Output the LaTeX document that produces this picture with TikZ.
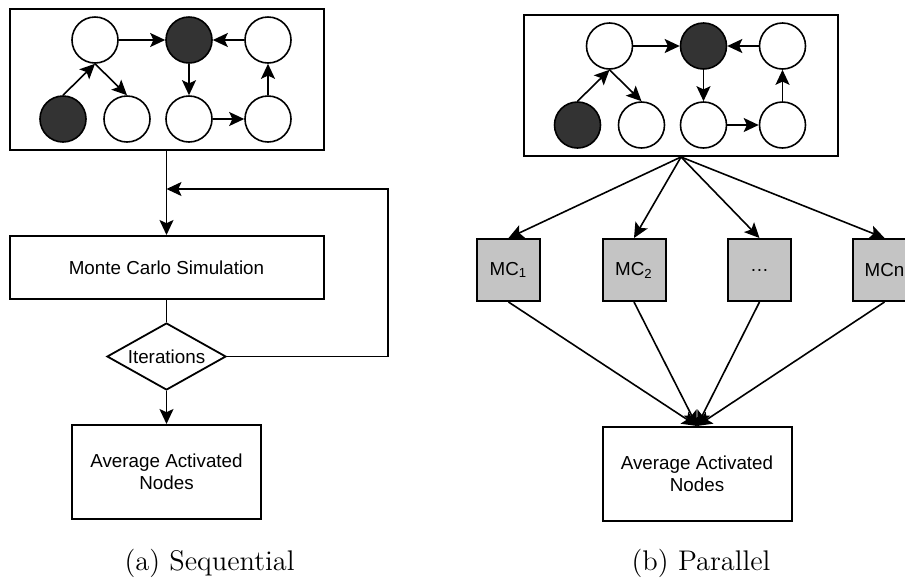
\documentclass[tikz,border=0pt]{standalone}
\usepackage{fontspec}
\setsansfont{Liberation Sans}
\usetikzlibrary{arrows.meta,shapes.geometric}
\definecolor{hotnode}{RGB}{51,51,51}
\definecolor{mcfill}{RGB}{196,196,196}

\begin{document}
\begin{tikzpicture}[x=0.5pt, y=-0.5pt,
  every node/.style={font=\fontsize{9.4}{11}\selectfont\sffamily},
  vtx/.style={circle, draw, line width=0.8pt, minimum size=23pt, inner sep=0pt, fill=white},
  hot/.style={vtx, fill=hotnode},
  graphbox/.style={draw, line width=1pt, minimum width=157pt, minimum height=70.5pt, inner sep=0pt},
  block/.style={draw, line width=1pt, inner sep=0pt, align=center},
  mc/.style={block, fill=mcfill, minimum width=31.5pt, minimum height=31pt},
  tip/.style={-{Stealth[length=7.5pt, width=7pt, inset=1.6pt]}, line width=0.8pt},
  caption/.style={font=\fontsize{14.2}{17}\selectfont\rmfamily}]
  \useasboundingbox (0,0) rectangle (905,579);

  \foreach \side/\cx/\ty in {s/166.5/9, p/681/15} {
    \begin{scope}[shift={(\cx,\ty)}, name prefix=\side-]
      \node[graphbox] (box) at (0,70.5) {};
      \node[vtx] (a) at (-71.5,31) {};
      \node[hot] (b) at (22.5,31) {};
      \node[vtx] (c) at (101.5,31) {};
      \node[hot] (d) at (-103.5,110) {};
      \node[vtx] (e) at (-39.5,110) {};
      \node[vtx] (f) at (22.5,110) {};
      \node[vtx] (g) at (101.5,110) {};
      \draw[tip] (d.north) -- (a.south);
      \draw[tip] (a.south) -- (e.north);
      \draw[tip] (a) -- (b);
      \draw[tip] (c) -- (b);
      \draw[tip] (b) -- (f);
      \draw[tip] (f) -- (g);
      \draw[tip] (g) -- (c);
    \end{scope}
  }

  \node[block, minimum width=157pt, minimum height=31.5pt] (mcs) at (166.5,267.5) {Monte Carlo Simulation};
  \node[diamond, draw, line width=0.9pt, aspect=1.78, minimum width=59.5pt, minimum height=33.5pt, inner sep=0pt] (iter) at (166.5,356.5) {Iterations};
  \node[block, minimum width=94.5pt, minimum height=47pt] (savg) at (166.5,472) {Average Activated\\Nodes};
  \coordinate (back) at (166.5,189);
  \draw[tip] (s-box.south) -- (mcs.north);
  \draw[line width=0.8pt] (mcs.south) -- (iter.north);
  \draw[tip] (iter.east) -- ++(161,0) |- (back);
  \draw[tip] (iter.south) -- (savg.north);

  \node[block, minimum width=94.5pt, minimum height=47pt] (pavg) at (697,474) {Average Activated\\Nodes};
  \foreach \i/\x/\lbl in {1/508.5/MC\textsubscript{1}, 2/634/MC\textsubscript{2}, 3/759.5/\ldots, 4/884.5/MCn} {
    \node[mc] (mc\i) at (\x,270) {\lbl};
    \draw[tip] (p-box.south) -- (mc\i.north);
    \draw[tip] (mc\i.south) -- (pavg.north);
  }

  \node[caption] (capa) at (209.5,563) {(a) Sequential};
  \node[caption] (capb) at (701,563) {(b) Parallel};
\end{tikzpicture}
\end{document}
